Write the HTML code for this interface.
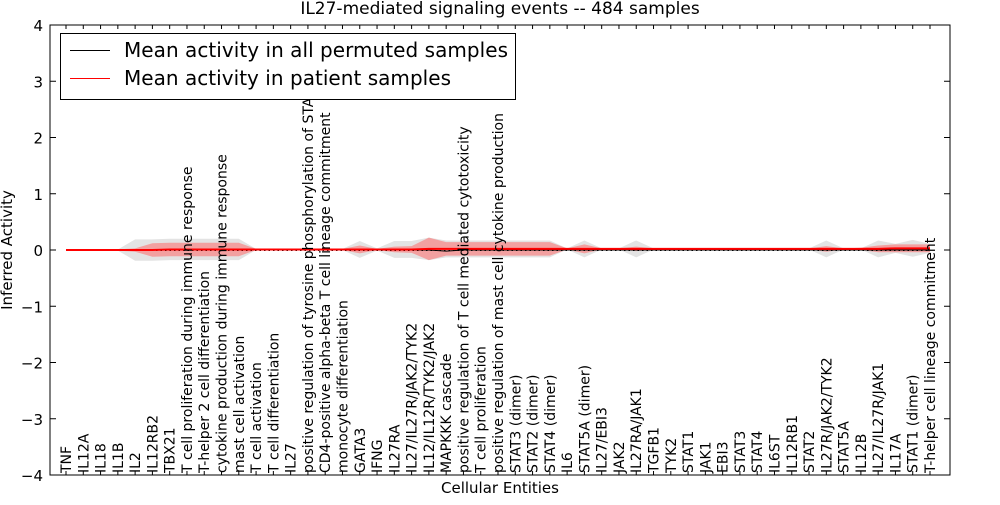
<!DOCTYPE html>
<html><head><meta charset="utf-8"><style>
body{margin:0;background:#fff;}
svg text{font-family:"DejaVu Sans","Liberation Sans",sans-serif;}
</style></head><body>
<svg id="chart" width="1000" height="500" xmlns="http://www.w3.org/2000/svg">
<text x="500" y="14" text-anchor="middle" font-size="17">IL27-mediated signaling events -- 484 samples</text>
<g id="bands"></g>
<g id="lines"></g>
<g id="xlabels"></g>
<rect x="50" y="25" width="900" height="450" fill="none" stroke="#000" stroke-width="1" shape-rendering="crispEdges"/>
<g id="yaxis"></g>
<text transform="translate(12,250) rotate(-90)" text-anchor="middle" font-size="15">Inferred Activity</text>
<text x="500" y="493" text-anchor="middle" font-size="15">Cellular Entities</text>
<g>
<rect x="60.5" y="33.5" width="455" height="66" fill="#fff" stroke="#000" shape-rendering="crispEdges"/>
<line x1="70" y1="50.5" x2="110" y2="50.5" stroke="#000" shape-rendering="crispEdges"/>
<text x="124" y="57" font-size="20" textLength="384">Mean activity in all permuted samples</text>
<line x1="70" y1="78.5" x2="110" y2="78.5" stroke="#f00" shape-rendering="crispEdges"/>
<text x="124" y="85" font-size="20" textLength="327">Mean activity in patient samples</text>
</g>
</svg>
<script>
const categories=["TNF","IL12A","IL18","IL1B","IL2","IL12RB2","TBX21","T cell proliferation during immune response","T-helper 2 cell differentiation","cytokine production during immune response","mast cell activation","T cell activation","T cell differentiation","IL27","positive regulation of tyrosine phosphorylation of STAT","CD4-positive alpha-beta T cell lineage commitment","monocyte differentiation","GATA3","IFNG","IL27RA","IL27/IL27R/JAK2/TYK2","IL12/IL12R/TYK2/JAK2","MAPKKK cascade","positive regulation of T cell mediated cytotoxicity","T cell proliferation","positive regulation of mast cell cytokine production","STAT3 (dimer)","STAT2 (dimer)","STAT4 (dimer)","IL6","STAT5A (dimer)","IL27/EBI3","JAK2","IL27RA/JAK1","TGFB1","TYK2","STAT1","JAK1","EBI3","STAT3","STAT4","IL6ST","IL12RB1","STAT2","IL27R/JAK2/TYK2","STAT5A","IL12B","IL27/IL27R/JAK1","IL17A","STAT1 (dimer)","T-helper cell lineage commitment"];
const grayHalf=[0.01,0.01,0.01,0.01,0.19,0.19,0.19,0.19,0.19,0.19,0.19,0.01,0.01,0.01,0.01,0.01,0.01,0.15,0.02,0.15,0.15,0.2,0.15,0.15,0.15,0.15,0.15,0.15,0.15,0.01,0.15,0.01,0.01,0.15,0.01,0.01,0.01,0.01,0.01,0.01,0.01,0.01,0.01,0.01,0.15,0.01,0.01,0.15,0.08,0.15,0.08];
const redHalf=[0.01,0.01,0.01,0.01,0.03,0.12,0.12,0.12,0.12,0.12,0.12,0.01,0.01,0.01,0.01,0.01,0.01,0.07,0.01,0.05,0.06,0.2,0.12,0.12,0.12,0.12,0.12,0.12,0.12,0.01,0.08,0.01,0.01,0.04,0.01,0.01,0.01,0.01,0.01,0.01,0.01,0.01,0.01,0.01,0.05,0.01,0.02,0.06,0.07,0.07,0.07];
const permMean=[0,0,0,0,0,0,0,0,0,0,0,0,0,0,0,0,0,0,0,0,0,0,-0.02,0,0,0,0,0,0,0,0,0,0,0,0,0,0,0,0,0,0,0,0,0,0,0,0,0,0,0,0];
const patientMean=[0,0,0,0,0,0,0.01,0.01,0.01,0.01,0.01,0.01,0.01,0.01,0.01,0.01,0.01,0.01,0.01,0.01,0.01,0.02,0.02,0.02,0.02,0.02,0.02,0.02,0.02,0.02,0.02,0.02,0.02,0.02,0.02,0.02,0.02,0.02,0.02,0.02,0.02,0.02,0.02,0.02,0.02,0.02,0.02,0.02,0.03,0.03,0.03];
const yTicks=[4,3,2,1,0,-1,-2,-3,-4];
const yTickLabels=["4","3","2","1","0","\u22121","\u22122","\u22123","\u22124"];
const NS="http://www.w3.org/2000/svg";
const X=i=>66+i*(930-66)/(categories.length-1);
const Y=v=>250-v*56.25;
function mk(t,a,p){const e=document.createElementNS(NS,t);for(const k in a)e.setAttribute(k,a[k]);p.appendChild(e);return e;}
function band(h,color,name){
  let up=categories.map((c,i)=>X(i)+","+Y(patientMean[i]+h[i]));
  let dn=categories.map((c,i)=>X(i)+","+Y(patientMean[i]-h[i])).reverse();
  const p=mk("polygon",{points:up.concat(dn).join(" "),fill:color,stroke:"none"},document.getElementById("bands"));
  
  
}
band(grayHalf,"#e3e3e3","permuted-band");
band(redHalf,"#f2a0a0","patient-band");
const L=document.getElementById("lines");
const z=mk("line",{x1:X(0),x2:X(categories.length-1),y1:Y(0)+0.5,y2:Y(0)+0.5,stroke:"#000","stroke-dasharray":"1.5,3"},L);


const pm=mk("polyline",{points:permMean.map((v,i)=>X(i)+","+Y(v)).join(" "),fill:"none",stroke:"#000","stroke-width":1},L);


const pt=mk("polyline",{points:patientMean.map((v,i)=>X(i)+","+Y(v)).join(" "),fill:"none",stroke:"#f00","stroke-width":2},L);


const YA=document.getElementById("yaxis");
yTicks.forEach((v,i)=>{
  mk("line",{x1:50,x2:56,y1:Y(v),y2:Y(v),stroke:"#000"},YA);
  mk("line",{x1:944,x2:950,y1:Y(v),y2:Y(v),stroke:"#000"},YA);
  const t=mk("text",{x:43,y:Y(v)+6,"text-anchor":"end","font-size":15},YA);
  t.textContent=yTickLabels[i];
  
  
});
const XL=document.getElementById("xlabels");
categories.forEach((c,i)=>{
  mk("line",{x1:X(i),x2:X(i),y1:475,y2:471,stroke:"#000"},XL);
  mk("line",{x1:X(i),x2:X(i),y1:25,y2:29,stroke:"#000"},XL);
  const t=mk("text",{transform:`translate(${X(i)+5},473) rotate(-90)`,"font-size":14},XL);
  t.textContent=c;
  
  
});
</script>
</body></html>
